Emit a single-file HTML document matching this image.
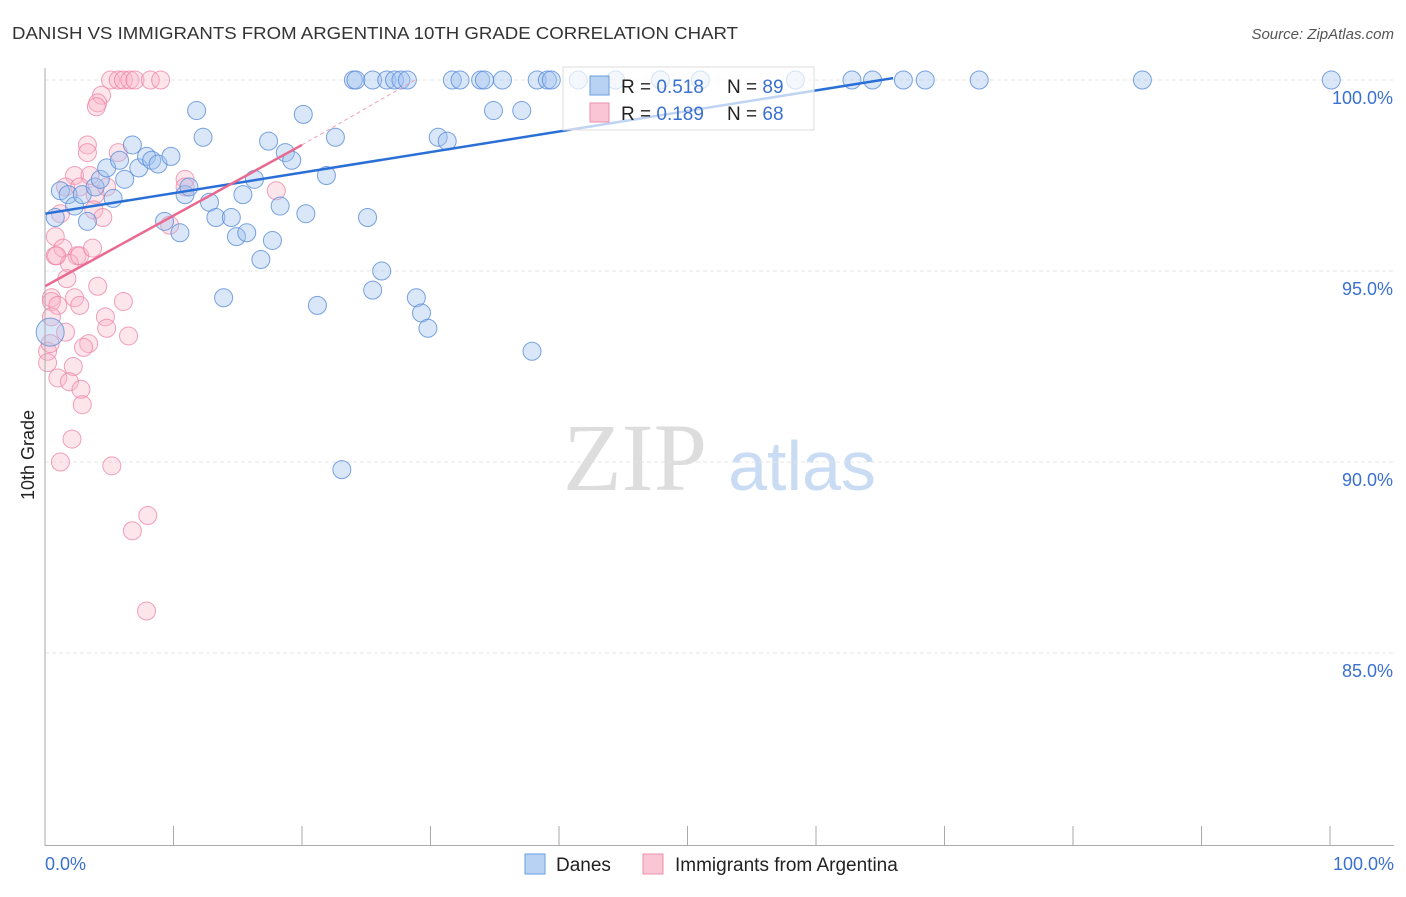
<!DOCTYPE html>
<html><head><meta charset="utf-8"><style>
body{margin:0;background:#fff;font-family:"Liberation Sans",sans-serif}
</style></head><body>
<svg id="c" width="1406" height="892" xmlns="http://www.w3.org/2000/svg">
<text x="12" y="39" font-size="17.5" fill="#333" textLength="726" lengthAdjust="spacingAndGlyphs">DANISH VS IMMIGRANTS FROM ARGENTINA 10TH GRADE CORRELATION CHART</text>
<text x="1394" y="39" font-size="15" fill="#555" font-style="italic" text-anchor="end">Source: ZipAtlas.com</text>
<text transform="translate(34,455) rotate(-90)" font-size="18" fill="#222" text-anchor="middle">10th Grade</text>
<text x="635" y="490" font-size="96" fill="#ddd" font-family="Liberation Serif,serif" text-anchor="middle">ZIP</text>
<text x="802" y="490" font-size="70" fill="#c9dcf3" text-anchor="middle">atlas</text>
<g id="grid"></g><g id="pts"></g><g id="lines"></g>
<line x1="45" y1="68" x2="45" y2="846" stroke="#aaa"/>
<line x1="45" y1="845.5" x2="1394" y2="845.5" stroke="#aaa"/>
<text x="45" y="870" font-size="18" fill="#3a70d0">0.0%</text>
<text x="1394" y="870" font-size="18" fill="#3a70d0" text-anchor="end">100.0%</text>
<g>
<rect x="563" y="67" width="251" height="63" fill="#fff" fill-opacity="0.7" stroke="#ddd"/>
<rect x="590" y="76" width="19" height="19" fill="#b8d2f3" stroke="#6a9de0"/>
<rect x="590" y="103" width="19" height="19" fill="#f9c6d5" stroke="#ee8fab"/>
<text x="621" y="93" font-size="19" fill="#222">R = <tspan fill="#3a70d0">0.518</tspan><tspan x="727">N = </tspan><tspan fill="#3a70d0">89</tspan></text>
<text x="621" y="120" font-size="19" fill="#222">R = <tspan fill="#3a70d0">0.189</tspan><tspan x="727">N = </tspan><tspan fill="#3a70d0">68</tspan></text>
</g>
<g>
<rect x="525" y="854" width="20" height="20" fill="#b8d2f3" stroke="#6a9de0"/>
<text x="556" y="871" font-size="19" fill="#222">Danes</text>
<rect x="643" y="854" width="20" height="20" fill="#f9c6d5" stroke="#ee8fab"/>
<text x="675" y="871" font-size="19" fill="#222">Immigrants from Argentina</text>
</g>
</svg>
<script>
const yTicks=[100,95,90,85];
const yTickLabels=["100.0%","95.0%","90.0%","85.0%"];
const xTicks=[0,10,20,30,40,50,60,70,80,90,100];
const danesX=[0.8,1.2,1.8,2.3,3.3,2.9,3.9,4.3,4.8,5.3,5.8,6.2,6.8,7.3,7.9,8.3,8.8,9.8,9.3,10.5,10.9,11.2,11.8,12.3,12.8,13.3,13.9,14.5,14.9,15.4,15.7,16.3,16.8,17.4,17.7,18.3,18.7,19.2,20.1,20.3,21.2,21.9,22.6,23.1,24.0,24.2,25.1,25.5,25.5,26.2,26.6,27.2,27.7,28.2,28.9,29.3,29.8,30.6,31.3,31.7,32.3,33.9,34.2,34.9,35.6,37.1,37.9,38.3,39.1,39.4,41.5,44.4,47.9,51.0,58.4,62.8,64.4,66.8,68.5,72.7,85.4,100.1,0.4];
const danesY=[96.4,97.1,97.0,96.7,96.3,97.0,97.2,97.4,97.7,96.9,97.9,97.4,98.3,97.7,98.0,97.9,97.8,98.0,96.3,96.0,97.0,97.2,99.2,98.5,96.8,96.4,94.3,96.4,95.9,97.0,96.0,97.4,95.3,98.4,95.8,96.7,98.1,97.9,99.1,96.5,94.1,97.5,98.5,89.8,100,100,96.4,100,94.5,95.0,100,100,100,100,94.3,93.9,93.5,98.5,98.4,100,100,100,100,99.2,100,99.2,92.9,100,100,100,100,100,100,100,100,100,100,100,100,100,100,100,93.4];
const argX=[5.1,5.7,6.1,6.6,7.0,8.2,9.0,4.4,4.1,4.0,3.3,3.3,5.7,2.3,1.6,3.5,2.7,3.9,4.8,1.2,0.8,3.8,4.5,10.9,10.9,9.7,18.0,0.8,1.4,2.5,1.9,1.7,2.7,3.7,0.5,0.5,1.0,2.3,2.7,4.1,6.1,0.5,4.7,4.8,1.6,3.4,3.0,6.5,0.2,0.2,2.2,1.0,1.9,2.8,2.9,2.1,1.2,5.2,8.0,6.8,7.9,0.4,0.9];
const argY=[100,100,100,100,100,100,100,99.6,99.4,99.3,98.3,98.1,98.1,97.5,97.2,97.5,97.2,97.0,97.2,96.5,95.9,96.6,96.4,97.4,97.2,96.2,97.1,95.4,95.6,95.4,95.2,94.8,95.4,95.6,94.3,94.2,94.1,94.3,94.1,94.6,94.2,93.8,93.8,93.5,93.4,93.1,93.0,93.3,92.9,92.6,92.5,92.2,92.1,91.9,91.5,90.6,90.0,89.9,88.6,88.2,86.1,93.1,95.4];
const danesFit=[[0,96.5],[66,100.05]];
const argFit=[[0,94.6],[20,98.3]];
const argFitDash=[[20,98.3],[28.8,100]];
const X=v=>45+v*12.85, Y=v=>80+(100-v)*38.2;
const NS="http://www.w3.org/2000/svg";
function mk(t,a,p){const e=document.createElementNS(NS,t);for(const k in a)e.setAttribute(k,a[k]);p.appendChild(e);return e;}
const grid=document.getElementById('grid');
yTicks.forEach((t,i)=>{
 const l=mk('line',{x1:45,x2:1394,y1:Y(t),y2:Y(t),stroke:'#e4e4e4','stroke-dasharray':'4,3'},grid);
 
 
 const tx=mk('text',{x:1393,y:Y(t)+24,'font-size':18,fill:'#3a70d0','text-anchor':'end'},grid);
 tx.textContent=yTickLabels[i];
 
 
});
xTicks.forEach(t=>{
 const l=mk('line',{x1:X(t),x2:X(t),y1:826,y2:845,stroke:'#aaa'},grid);
 
 
});
const pts=document.getElementById('pts');
argX.forEach((x,i)=>{
 const c=mk('circle',{cx:X(x),cy:Y(argY[i]),r:9,fill:'rgba(248,180,200,0.35)',stroke:'rgba(235,130,165,0.75)','stroke-width':1},pts);
 
 
});
danesX.forEach((x,i)=>{
 const c=mk('circle',{cx:X(x),cy:Y(danesY[i]),r:i==danesX.length-1?14:9,fill:'rgba(160,196,240,0.4)',stroke:'rgba(90,140,215,0.8)','stroke-width':1},pts);
 
 
});
const lines=document.getElementById('lines');
const l1=mk('line',{x1:X(danesFit[0][0]),y1:Y(danesFit[0][1]),x2:X(danesFit[1][0]),y2:Y(danesFit[1][1]),stroke:'#2a6fd6','stroke-width':2.5},lines);


const l2=mk('line',{x1:X(argFit[0][0]),y1:Y(argFit[0][1]),x2:X(argFit[1][0]),y2:Y(argFit[1][1]),stroke:'#e86a90','stroke-width':2.5},lines);


const l3=mk('line',{x1:X(argFitDash[0][0]),y1:Y(argFitDash[0][1]),x2:X(argFitDash[1][0]),y2:Y(argFitDash[1][1]),stroke:'#f0a0b8','stroke-width':1,'stroke-dasharray':'4,3'},lines);


</script>
</body></html>
